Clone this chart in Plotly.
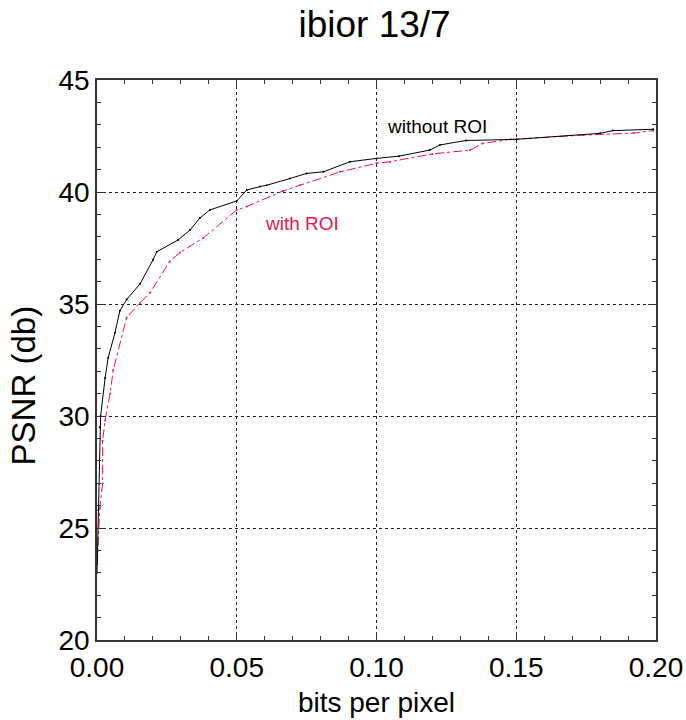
import plotly.graph_objects as go

# without ROI (black)
bpp_without = [0.0, 0.0005, 0.001, 0.0013, 0.0029, 0.004, 0.0064, 0.0082, 0.0106, 0.0154,
               0.02, 0.0214, 0.029, 0.0333, 0.0368, 0.0404, 0.05, 0.0536, 0.0583, 0.0607,
               0.069, 0.075, 0.081, 0.0905, 0.1, 0.108, 0.119, 0.1227, 0.132, 0.15,
               0.18, 0.1846, 0.199]
psnr_without = [23.0, 25.8, 29.5, 30.0, 31.7, 32.6, 33.7, 34.7, 35.2, 35.9,
                36.96, 37.33, 37.86, 38.3, 38.84, 39.2, 39.6, 40.09, 40.24, 40.3,
                40.6, 40.83, 40.9, 41.35, 41.5, 41.6, 41.87, 42.1, 42.3, 42.35,
                42.62, 42.74, 42.8]

# with ROI (red)
bpp_with = [0.0001, 0.001, 0.002, 0.002, 0.0029, 0.0047, 0.0058, 0.0106, 0.0154, 0.019,
            0.026, 0.0297, 0.038, 0.05, 0.0536, 0.0666, 0.0726, 0.087, 0.1, 0.1048,
            0.12, 0.1335, 0.138, 0.148, 0.174, 0.192, 0.199]
psnr_with = [23.4, 25.9, 27.0, 28.9, 29.8, 31.0, 32.05, 34.4, 35.05, 35.5,
             36.9, 37.3, 37.95, 39.2, 39.35, 40.05, 40.3, 40.9, 41.28, 41.35,
             41.7, 41.87, 42.17, 42.35, 42.54, 42.63, 42.74]

x_ticks = [0.0, 0.05, 0.10, 0.15, 0.20]
x_labels = ["0.00", "0.05", "0.10", "0.15", "0.20"]
y_ticks = [20, 25, 30, 35, 40, 45]

RED = "#e8164c"
FONT = "Liberation Sans, Arial, sans-serif"

fig = go.Figure()
fig.add_trace(go.Scatter(x=bpp_with, y=psnr_with, mode="lines+markers",
                         line=dict(color=RED, width=1, dash="dashdot"),
                         marker=dict(color=RED, size=2), showlegend=False))
fig.add_trace(go.Scatter(x=bpp_without, y=psnr_without, mode="lines+markers",
                         line=dict(color="black", width=1),
                         marker=dict(color="black", size=2), showlegend=False))

fig.add_annotation(x=0.1215, y=42.93, text="without ROI", showarrow=False,
                   font=dict(size=19, color="black", family=FONT))
fig.add_annotation(x=0.0735, y=38.6, text="with ROI", showarrow=False,
                   font=dict(size=19, color=RED, family=FONT))
# y-axis title
fig.add_annotation(xref="paper", yref="paper", x=-0.132, y=0.455, text="PSNR (db)",
                   textangle=-90, showarrow=False, xanchor="center", yanchor="middle",
                   font=dict(size=33, color="black", family=FONT))

axis_common = dict(showline=True, linecolor="#333", linewidth=1.5, mirror="ticks",
                   ticks="inside", ticklen=8, tickcolor="#333", tickwidth=1,
                   showgrid=True, gridcolor="#222", griddash="dot", gridwidth=1,
                   zeroline=False, automargin=False,
                   tickfont=dict(size=28, family=FONT, color="black"))

fig.update_xaxes(range=[0, 0.2], tickvals=x_ticks, ticktext=x_labels, ticklabelstandoff=2,
                 minor=dict(ticks="inside", dtick=0.01, ticklen=4, tickcolor="#333", showgrid=False),
                 title=dict(text="bits per pixel", font=dict(size=28, family=FONT, color="black"), standoff=10),
                 **axis_common)
fig.update_yaxes(range=[20, 45], tickvals=y_ticks,
                 minor=dict(ticks="inside", dtick=1, ticklen=4, tickcolor="#333", showgrid=False),
                 **axis_common)

fig.update_layout(
    width=686, height=720,
    margin=dict(l=97, r=30, t=80, b=80),
    paper_bgcolor="white", plot_bgcolor="white",
    title=dict(text="ibior 13/7", x=0.546, xanchor="center", y=0.967, yanchor="middle",
               font=dict(size=37, family=FONT, color="black")),
)

fig.write_html("out.html", config={"displayModeBar": False},
               post_script="document.body.style.margin='0';")
